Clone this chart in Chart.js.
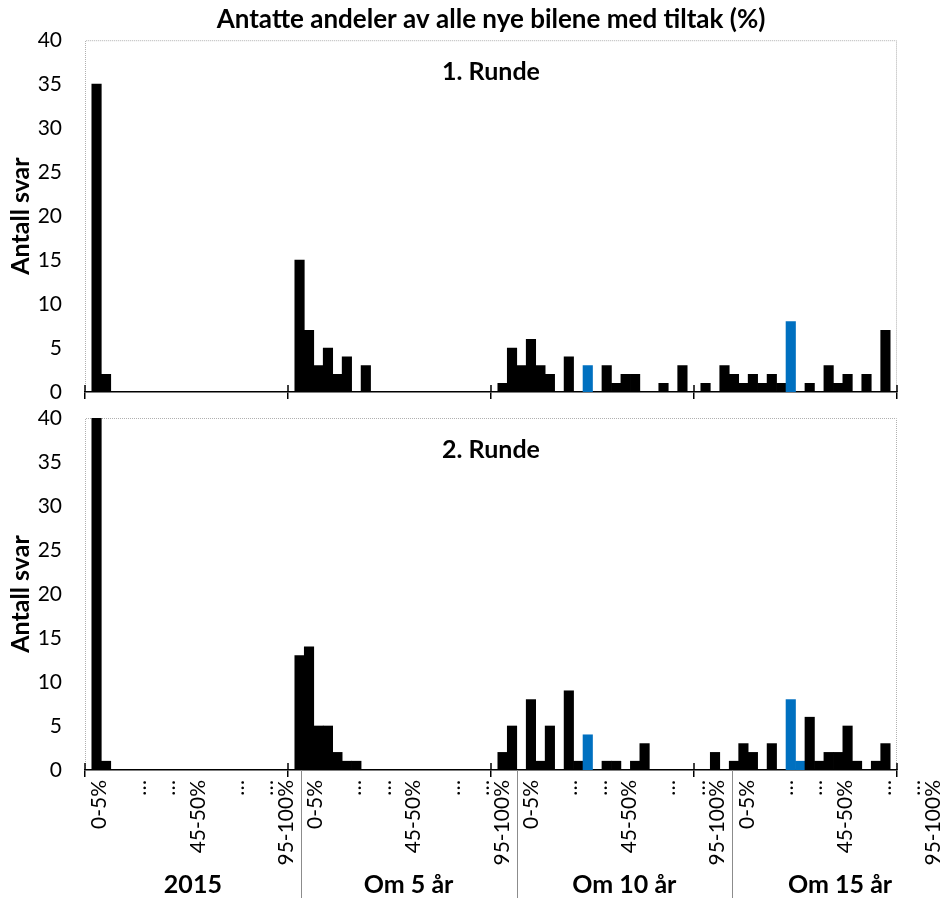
<!DOCTYPE html>
<html>
<head>
<meta charset="utf-8">
<script src="https://cdn.jsdelivr.net/npm/chart.js@4.4.1/dist/chart.umd.min.js"></script>
<style>
  html, body { margin: 0; padding: 0; background: #fff; overflow: hidden; }
  #wrap { position: relative; width: 947px; height: 898px; overflow: hidden; background: #fff; }
  .box { position: absolute; }
</style>
</head>
<body>
<div id="wrap">
  <div class="box" style="left:0;top:0;width:947px;height:410px"><canvas id="round1-chart"></canvas></div>
  <div class="box" style="left:0;top:400px;width:947px;height:388px"><canvas id="round2-chart"></canvas></div>
  <div class="box" style="left:0;top:760px;width:960px;height:138px"><canvas id="label-chart"></canvas></div>
</div>
<script>
const groups = ["2015", "Om 5 år", "Om 10 år", "Om 15 år"];
const bins = ["0-5%", "5-10%", "10-15%", "15-20%", "20-25%", "25-30%", "30-35%", "35-40%", "40-45%", "45-50%",
  "50-55%", "55-60%", "60-65%", "65-70%", "70-75%", "75-80%", "80-85%", "85-90%", "90-95%", "95-100%"];
const highlightBins = ["45-50%", "50-55%"];

// 1. runde, antall svar per intervall
const round1_2015 = [35, 2, 0, 0, 0, 0, 0, 0, 0, 0, 0, 0, 0, 0, 0, 0, 0, 0, 0, 0];
const round1_5yr = [15, 7, 3, 5, 2, 4, 0, 3, 0, 0, 0, 0, 0, 0, 0, 0, 0, 0, 0, 0];
const round1_10yr = [1, 5, 3, 6, 3, 2, 0, 4, 0, 3, 0, 3, 1, 2, 2, 0, 0, 1, 0, 3];
const round1_15yr = [1, 0, 3, 2, 1, 2, 1, 2, 1, 8, 0, 1, 0, 3, 1, 2, 0, 2, 0, 7];

// 2. runde
const round2_2015 = [40, 1, 0, 0, 0, 0, 0, 0, 0, 0, 0, 0, 0, 0, 0, 0, 0, 0, 0, 0];
const round2_5yr = [13, 14, 5, 5, 2, 1, 1, 0, 0, 0, 0, 0, 0, 0, 0, 0, 0, 0, 0, 0];
const round2_10yr = [2, 5, 0, 8, 1, 5, 0, 9, 1, 4, 0, 1, 1, 0, 1, 3, 0, 0, 0, 0];
const round2_15yr = [0, 2, 0, 1, 3, 2, 0, 3, 0, 8, 1, 6, 1, 2, 2, 5, 1, 0, 1, 3];

// tick labels under the lower panel, one empty slot on each side of a group
const slotLabels = ["", "0-5%", "", "", "", "…", "", "", "…", "", "", "45-50%", "", "", "", "…", "", "", "…", "", "95-100%", ""];

const yMax = 40;
const yStep = 5;

const FONT = "Lato, 'Open Sans', sans-serif";
Chart.defaults.font.family = FONT;
Chart.defaults.color = "#000";

// each group is a bit wider than its 20 bars
const groupSpan = 21.44;
const groupPad = (groupSpan - bins.length) / 2;

function barPoints(series) {
  return series.flatMap((vals, gi) =>
    vals.map((v, bi) => ({ x: gi * groupSpan + groupPad + bi + 0.5, y: v === 0 ? null : v }))
  );
}

function barColor(ctx) {
  const bin = bins[ctx.dataIndex % bins.length];
  return highlightBins.includes(bin) ? "#0070c0" : "#000";
}

function noPadding(scale) {
  scale.paddingTop = 0;
  scale.paddingBottom = 0;
  scale.paddingLeft = 0;
  scale.paddingRight = 0;
}

const plotFrame = {
  id: "plotFrame",
  beforeDraw(chart) {
    const { ctx, chartArea: a } = chart;
    ctx.save();
    ctx.strokeStyle = "#b0b0b0";
    ctx.lineWidth = 1;
    ctx.setLineDash([1, 1]);
    ctx.beginPath();
    ctx.moveTo(a.left + 0.5, a.bottom);
    ctx.lineTo(a.left + 0.5, a.top + 0.5);
    ctx.lineTo(a.right - 0.5, a.top + 0.5);
    ctx.lineTo(a.right - 0.5, a.bottom);
    ctx.stroke();
    ctx.restore();
  },
  afterDraw(chart) {
    // tick marks cross the axis line, so draw the upper half too
    const { ctx, chartArea: a } = chart;
    const x = chart.scales.x;
    ctx.save();
    ctx.strokeStyle = "#000";
    ctx.lineWidth = 1.5;
    x.ticks.forEach(t => {
      const px = x.getPixelForValue(t.value);
      ctx.beginPath();
      ctx.moveTo(px, a.bottom - 7);
      ctx.lineTo(px, a.bottom);
      ctx.stroke();
    });
    ctx.restore();
  }
};

const panelLabel = {
  id: "panelLabel",
  afterDraw(chart, args, opts) {
    const { ctx, chartArea: a } = chart;
    ctx.save();
    ctx.font = "bold 25px " + FONT;
    ctx.fillStyle = "#000";
    ctx.textAlign = "center";
    ctx.textBaseline = "middle";
    ctx.fillText(opts.text, (a.left + a.right) / 2, a.top + opts.offset);
    ctx.restore();
  }
};

function makeRound(canvasId, series, label, showTitle, topPad) {
  return new Chart(document.getElementById(canvasId), {
    type: "bar",
    data: {
      datasets: [{
        data: barPoints(series),
        backgroundColor: barColor,
        borderWidth: 0,
        barPercentage: 1,
        categoryPercentage: 1
      }]
    },
    options: {
      responsive: true,
      maintainAspectRatio: false,
      animation: false,
      devicePixelRatio: 1,
      layout: { padding: { left: 0, right: 50, top: topPad, bottom: 0 } },
      plugins: {
        legend: { display: false },
        tooltip: { enabled: false },
        title: {
          display: showTitle,
          text: "Antatte andeler av alle nye bilene med tiltak (%)",
          fullSize: false,
          font: { size: 26, weight: "bold" },
          color: "#000",
          padding: { top: 4, bottom: 5 }
        },
        panelLabel: { text: label, offset: 32 }
      },
      scales: {
        x: {
          type: "linear",
          min: 0,
          max: groups.length * groupSpan,
          offset: false,
          afterBuildTicks: scale => {
            scale.ticks = [0, 1, 2, 3, 4].map(i => ({ value: i * groupSpan }));
          },
          ticks: { display: false },
          grid: { offset: false, drawOnChartArea: false, drawTicks: true, tickLength: 7, color: "#000", lineWidth: 1.5 },
          border: { display: true, color: "#000", width: 1.5 },
          afterFit: scale => { noPadding(scale); scale.height = 18; }
        },
        y: {
          min: 0,
          max: yMax,
          ticks: { stepSize: yStep, padding: 23, font: { size: 21 }, color: "#000" },
          grid: { display: false, drawTicks: false },
          border: { display: false },
          title: {
            display: true,
            text: "Antall svar",
            font: { size: 25, weight: "bold" },
            color: "#000",
            padding: { top: 6, bottom: 0 }
          },
          afterFit: scale => { noPadding(scale); scale.width = 85; }
        }
      }
    },
    plugins: [plotFrame, panelLabel]
  });
}

makeRound("round1-chart", [round1_2015, round1_5yr, round1_10yr, round1_15yr], "1. Runde", true, 0);
makeRound("round2-chart", [round2_2015, round2_5yr, round2_10yr, round2_15yr], "2. Runde", false, 18);

const groupDividers = {
  id: "groupDividers",
  afterDraw(chart) {
    const { ctx } = chart;
    const s = chart.scales.x2;
    const w = (s.right - s.left) / groups.length;
    ctx.save();
    ctx.strokeStyle = "#8c8c8c";
    ctx.lineWidth = 1;
    for (let i = 1; i < groups.length; i++) {
      const x = Math.round(s.left + i * w) + 0.5;
      ctx.beginPath();
      ctx.moveTo(x, chart.chartArea.bottom);
      ctx.lineTo(x, chart.height);
      ctx.stroke();
    }
    ctx.restore();
  }
};

new Chart(document.getElementById("label-chart"), {
  type: "bar",
  data: {
    labels: groups.flatMap(() => slotLabels),
    datasets: []
  },
  options: {
    responsive: true,
    maintainAspectRatio: false,
    animation: false,
    devicePixelRatio: 1,
    layout: { padding: { left: 85, right: 12, top: 0, bottom: 0 } },
    plugins: { legend: { display: false }, tooltip: { enabled: false } },
    scales: {
      x: {
        type: "category",
        position: "bottom",
        offset: true,
        grid: { display: false, drawTicks: false },
        border: { display: false },
        ticks: { autoSkip: false, minRotation: 90, maxRotation: 90, padding: 10, font: { size: 21 }, color: "#000" },
        afterFit: scale => { noPadding(scale); scale.height = 100; }
      },
      x2: {
        type: "category",
        position: "bottom",
        labels: groups,
        offset: true,
        grid: { display: false, drawTicks: false },
        border: { display: false },
        ticks: { autoSkip: false, maxRotation: 0, padding: 0, font: { size: 25, weight: "bold" }, color: "#000" },
        afterFit: scale => { noPadding(scale); scale.height = 28; }
      },
      y: { display: false }
    }
  },
  plugins: [groupDividers]
});
</script>
</body>
</html>
